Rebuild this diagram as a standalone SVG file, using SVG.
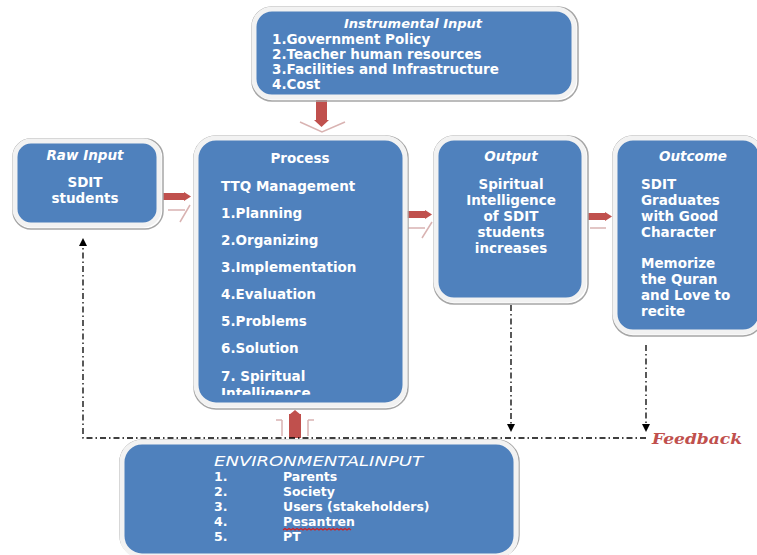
<svg xmlns="http://www.w3.org/2000/svg" width="757" height="555" viewBox="0 0 757 555">
<style>
.box{fill:#4F81BD;stroke:#F2F2F2;stroke-width:5}
.sh{fill:none;stroke:#A6A6A6;stroke-width:1.5}
.t{font-family:"DejaVu Sans",Verdana,sans-serif;font-size:13.5px;font-weight:bold;fill:#FFFFFF}
.e{font-size:12.5px}
.h{font-style:italic}
.c{text-anchor:middle}
.fb{fill:none;stroke:#000;stroke-width:1.3;stroke-dasharray:6 3 1.5 3}
.ra{fill:#C0504D}
.ghost{fill:none;stroke:#D9B3B2;stroke-width:1.5}
</style>
<defs>
<marker id="ah" markerWidth="8" markerHeight="8" refX="6" refY="4" orient="auto" markerUnits="userSpaceOnUse">
<path d="M0,0 L8,4 L0,8 Z" fill="#000"/>
</marker>
<clipPath id="pclip"><rect x="198" y="140" width="205" height="255" rx="18"/></clipPath>
</defs>
<rect width="757" height="555" fill="#FFFFFF"/>

<g id="connectors">
<g id="a-instr">
<path class="ghost" d="M300,122 L322,132 L345,122"/>
<rect class="ra" x="316" y="100" width="11" height="22"/>
<path class="ra" d="M314,120 L321.5,127 L329,120 Z"/>
</g>
<g id="a-env">
<path class="ghost" d="M282,420 L276,420 M308,420 L314,420 M282,420 L282,436 M308,420 L308,436"/>
<rect class="ra" x="289" y="414" width="12" height="24"/>
<path class="ra" d="M289,415 L295,410 L301,415 Z"/>
</g>
<g id="a-raw">
<path class="ghost" d="M168,210 L185,210 M190,205 L180,222"/>
<rect class="ra" x="163" y="193" width="22" height="7"/>
<path class="ra" d="M184,192 L191,196.5 L184,201 Z"/>
</g>
<g id="a-proc">
<path class="ghost" d="M408,228 L425,228 M432,222 L422,238"/>
<rect class="ra" x="406" y="211" width="20" height="7"/>
<path class="ra" d="M425,210 L432,214.5 L425,219 Z"/>
</g>
<g id="a-out">
<path class="ghost" d="M590,228 L606,228"/>
<rect class="ra" x="588" y="213" width="18" height="7"/>
<path class="ra" d="M605,212 L612,216.5 L605,221 Z"/>
</g>
<path class="fb" d="M511,305 L511,430" marker-end="url(#ah)"/>
<path class="fb" d="M646,345 L646,430" marker-end="url(#ah)"/>
<path class="fb" d="M646,438 L83,438 L83,240" marker-end="url(#ah)"/>
<text x="652" y="444" textLength="90" lengthAdjust="spacingAndGlyphs" style="font-family:'DejaVu Serif','Liberation Serif',serif;font-size:15px;font-weight:bold;font-style:italic;fill:#C0504D">Feedback</text>
</g>

<g id="instrumental">
<rect class="sh" x="252" y="7" width="326" height="94" rx="20"/>
<rect class="box" x="254" y="9" width="320" height="88" rx="18"/>
<text class="t h c" x="413" y="28" style="font-size:13px">Instrumental Input</text>
<text class="t" x="272" y="44">1.Government Policy</text>
<text class="t" x="272" y="59">2.Teacher human resources</text>
<text class="t" x="272" y="74">3.Facilities and Infrastructure</text>
<text class="t" x="272" y="89">4.Cost</text>
</g>

<g id="raw">
<rect class="sh" x="13" y="139" width="150" height="90" rx="18"/>
<rect class="box" x="15" y="141" width="144" height="84" rx="16"/>
<text class="t h c" x="85" y="160">Raw Input</text>
<text class="t c" x="85" y="187">SDIT</text>
<text class="t c" x="85" y="203">students</text>
</g>

<g id="process">
<rect class="sh" x="194" y="136" width="214" height="273" rx="22"/>
<rect class="box" x="196" y="138" width="209" height="267" rx="20"/>
<g clip-path="url(#pclip)">
<text class="t c" x="300" y="163">Process</text>
<text class="t" x="221" y="191">TTQ Management</text>
<text class="t" x="221" y="218">1.Planning</text>
<text class="t" x="221" y="245">2.Organizing</text>
<text class="t" x="221" y="272">3.Implementation</text>
<text class="t" x="221" y="299">4.Evaluation</text>
<text class="t" x="221" y="326">5.Problems</text>
<text class="t" x="221" y="353">6.Solution</text>
<text class="t" x="221" y="381">7. Spiritual</text>
<text class="t" x="221" y="398">Intelligence</text>
</g>
</g>

<g id="output">
<rect class="sh" x="434" y="136" width="154" height="168" rx="20"/>
<rect class="box" x="436" y="138" width="148" height="162" rx="18"/>
<text class="t h c" x="511" y="161">Output</text>
<text class="t c" x="511" y="189">Spiritual</text>
<text class="t c" x="511" y="205">Intelligence</text>
<text class="t c" x="511" y="221">of SDIT</text>
<text class="t c" x="511" y="237">students</text>
<text class="t c" x="511" y="253">increases</text>
</g>

<g id="outcome">
<rect class="sh" x="613" y="136" width="150" height="200" rx="20"/>
<rect class="box" x="615" y="138" width="146" height="194" rx="18"/>
<text class="t h c" x="693" y="161">Outcome</text>
<text class="t" x="641" y="189">SDIT</text>
<text class="t" x="641" y="205">Graduates</text>
<text class="t" x="641" y="221">with Good</text>
<text class="t" x="641" y="237">Character</text>
<text class="t" x="641" y="268">Memorize</text>
<text class="t" x="641" y="284">the Quran</text>
<text class="t" x="641" y="300">and Love to</text>
<text class="t" x="641" y="316">recite</text>
</g>

<g id="environmental">
<rect class="sh" x="120" y="440" width="399" height="117" rx="22"/>
<rect class="box" x="122" y="442" width="394" height="114" rx="20"/>
<text class="t h" x="214" y="466" textLength="209" lengthAdjust="spacingAndGlyphs" style="font-weight:normal">ENVIRONMENTALINPUT</text>
<text class="t e" x="214" y="481">1.</text>
<text class="t e" x="283" y="481">Parents</text>
<text class="t e" x="214" y="496">2.</text>
<text class="t e" x="283" y="496">Society</text>
<text class="t e" x="214" y="511">3.</text>
<text class="t e" x="283" y="511">Users (stakeholders)</text>
<text class="t e" x="214" y="526">4.</text>
<text class="t e" x="283" y="526">Pesantren</text>
<path d="M283,530 l2,-1.5 l2,1.5 l2,-1.5 l2,1.5 l2,-1.5 l2,1.5 l2,-1.5 l2,1.5 l2,-1.5 l2,1.5 l2,-1.5 l2,1.5 l2,-1.5 l2,1.5 l2,-1.5 l2,1.5 l2,-1.5 l2,1.5 l2,-1.5 l2,1.5 l2,-1.5 l2,1.5 l2,-1.5 l2,1.5 l2,-1.5 l2,1.5 l2,-1.5 l2,1.5 l2,-1.5 l2,1.5 l2,-1.5 l2,1.5 l2,-1.5 l2,1.5" fill="none" stroke="#D02020" stroke-width="1.2"/>
<text class="t e" x="214" y="541">5.</text>
<text class="t e" x="283" y="541">PT</text>
</g>
</svg>
